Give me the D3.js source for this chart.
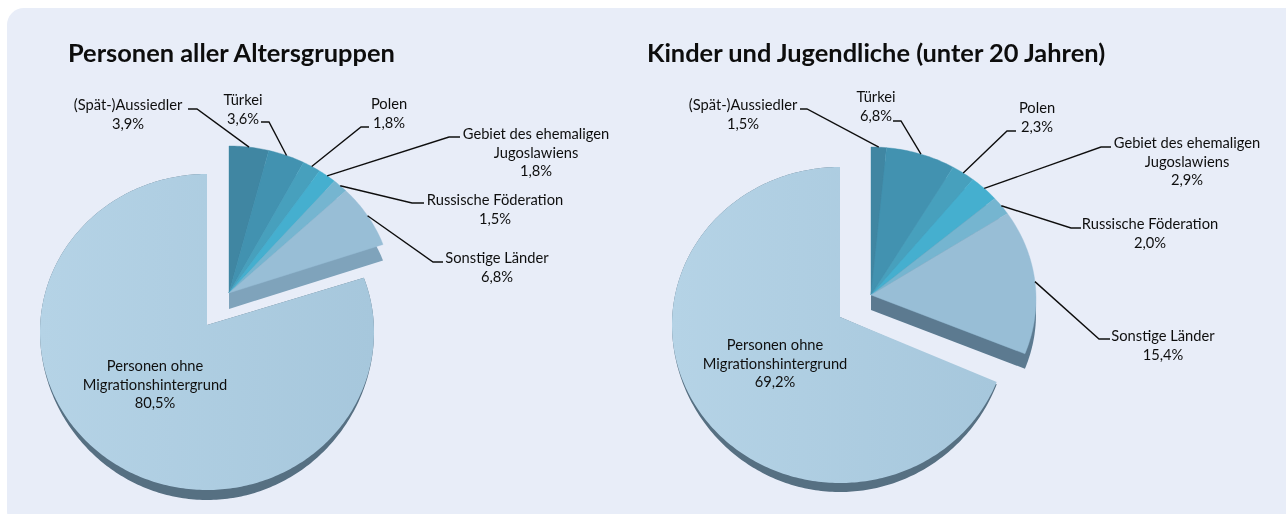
<!DOCTYPE html>
<html><head><meta charset="utf-8">
<script src="https://cdn.jsdelivr.net/npm/d3@7"></script>
<style>html,body{margin:0;padding:0;background:#fff}svg{display:block}text{font-family:Lato,"Open Sans",sans-serif}</style>
</head><body><svg id="c" width="1286" height="514"></svg>
<script>
const categories=["(Spät-)Aussiedler","Türkei","Polen","Gebiet des ehemaligen Jugoslawiens","Russische Föderation","Sonstige Länder","Personen ohne Migrationshintergrund"];
const valuesAll=[3.9,3.6,1.8,1.8,1.5,6.8,80.5];
const valuesYouth=[1.5,6.8,2.3,2.9,2.0,15.4,69.2];
const titles=["Personen aller Altersgruppen","Kinder und Jugendliche (unter 20 Jahren)"];
const colors=["#3f86a2","#4292b0","#47a0bd","#44afcf","#74b5d0","#98bed6","#aecde1"];
const labelLines=[["(Spät-)Aussiedler"],["Türkei"],["Polen"],["Gebiet des ehemaligen","Jugoslawiens"],["Russische Föderation"],["Sonstige Länder"],["Personen ohne","Migrationshintergrund"]];

// layout only: [label centre x, first baseline y, elbow x, elbow y, leader start x]
const layoutAll=[[128,110,197,109,188],[243,105,269,122,261],[389,109,361,127,369],[536,139,449,137,460],[495,205,412,203,424],[497,263,433,262,443],[155,371]];
const layoutYouth=[[743,110,807,109,800],[876,102,901,121,893],[1037,113,1007,131,1016],[1187,148,1101,147,1111],[1150,229,1071,228,1081],[1163,341,1099,339,1110],[775,350]];
const charts=[
 {values:valuesAll,title:titles[0],tx:68,layout:layoutAll,
  small:{ax:229,ay:293,cx:229,cy:296,rx:164,ry:150,depth:16,wall:"#7fa3bb"},
  big:{ax:207,ay:325,cx:207,cy:332,rx:167,ry:158,depth:10,wall:"#566f82"}},
 {values:valuesYouth,title:titles[1],tx:647,layout:layoutYouth,
  small:{ax:871,ay:295,cx:871,cy:299,rx:165,ry:152,depth:15,wall:"#5b7a90"},
  big:{ax:840,ay:317,cx:840,cy:325,rx:168,ry:158,depth:9,wall:"#566f82"}}
];

const svg=d3.select("#c");
const defs=svg.append("defs");
const g=defs.append("linearGradient").attr("id","bigFill").attr("x1",0).attr("x2",1).attr("y1",0).attr("y2",0);
g.append("stop").attr("offset",0).attr("stop-color","#b5d3e6");
g.append("stop").attr("offset",1).attr("stop-color","#a6c7dc");
defs.append("filter").attr("id","soft").attr("x","-5%").attr("y","-5%").attr("width","110%").attr("height","110%")
  .append("feGaussianBlur").attr("stdDeviation",0.45);

svg.append("rect").attr("x",7).attr("y",8).attr("width",1300).attr("height",520).attr("rx",17).attr("fill","#e8edf8");

const root=svg.append("g").attr("filter","url(#soft)");
const pie=d3.pie().sort(null).value(d=>d).startAngle(0).endAngle(2*Math.PI);
const pt=(g,a)=>[g.cx+g.rx*Math.sin(a),g.cy-g.ry*Math.cos(a)];
const line=d3.line();
function arcPts(g,s,f){
  const n=Math.max(4,Math.ceil((s.endAngle-s.startAngle)*60));
  return d3.range(n+1).map(i=>f(g,s.startAngle+(s.endAngle-s.startAngle)*i/n));
}
const slicePts=(g,s)=>[[g.ax,g.ay],...arcPts(g,s,pt)];
// rim of the big slice: thickness tapers towards the sides of the ellipse
const rimPt=(g,a)=>{const p=pt(g,a);return [p[0],p[1]+g.depth*Math.max(0,-Math.cos(a))**1.3];};
charts.forEach(c=>{
  const arcs=pie(c.values);
  const last=arcs.length-1;
  root.append("text").attr("x",c.tx).attr("y",61.5).attr("font-size",25.4).attr("font-weight",700).attr("fill","#0b0b0b").text(c.title);

  const big=arcs[last], small=arcs.slice(0,last);
  const smallAll={startAngle:small[0].startAngle,endAngle:small[small.length-1].endAngle};
  root.append("path").attr("d",line([[c.big.ax,c.big.ay],...arcPts(c.big,big,rimPt)])+"Z").attr("fill",c.big.wall);
  root.append("path").attr("d",line(slicePts(c.big,big))+"Z").attr("fill","url(#bigFill)");
  root.append("path").attr("d",line(slicePts(c.small,smallAll))+"Z").attr("transform",`translate(0,${c.small.depth})`).attr("fill",c.small.wall);
  root.selectAll(null).data(small).join("path").attr("d",d=>line(slicePts(c.small,d))+"Z")
    .attr("fill",(d,i)=>colors[i]).attr("stroke",(d,i)=>colors[i]).attr("stroke-width",0.4);

  arcs.forEach((a,i)=>{
    const L=c.layout[i];
    if(i<last){
      const mid=(a.startAngle+a.endAngle)/2;
      root.append("path").attr("d",line([[L[4],L[3]],[L[2],L[3]],pt(c.small,mid)]))
        .attr("fill","none").attr("stroke","#111").attr("stroke-width",1.4);
    }
    const t=[...labelLines[i],String(c.values[i]).replace(".",",").replace(/^(\d+)$/,"$1,0")+"%"];
    root.append("text").attr("text-anchor","middle").attr("font-size",14.7).attr("fill","#111")
      .selectAll("tspan").data(t).join("tspan").attr("x",L[0]).attr("y",(d,k)=>L[1]+k*18.5).text(d=>d);
  });
});
</script></body></html>
